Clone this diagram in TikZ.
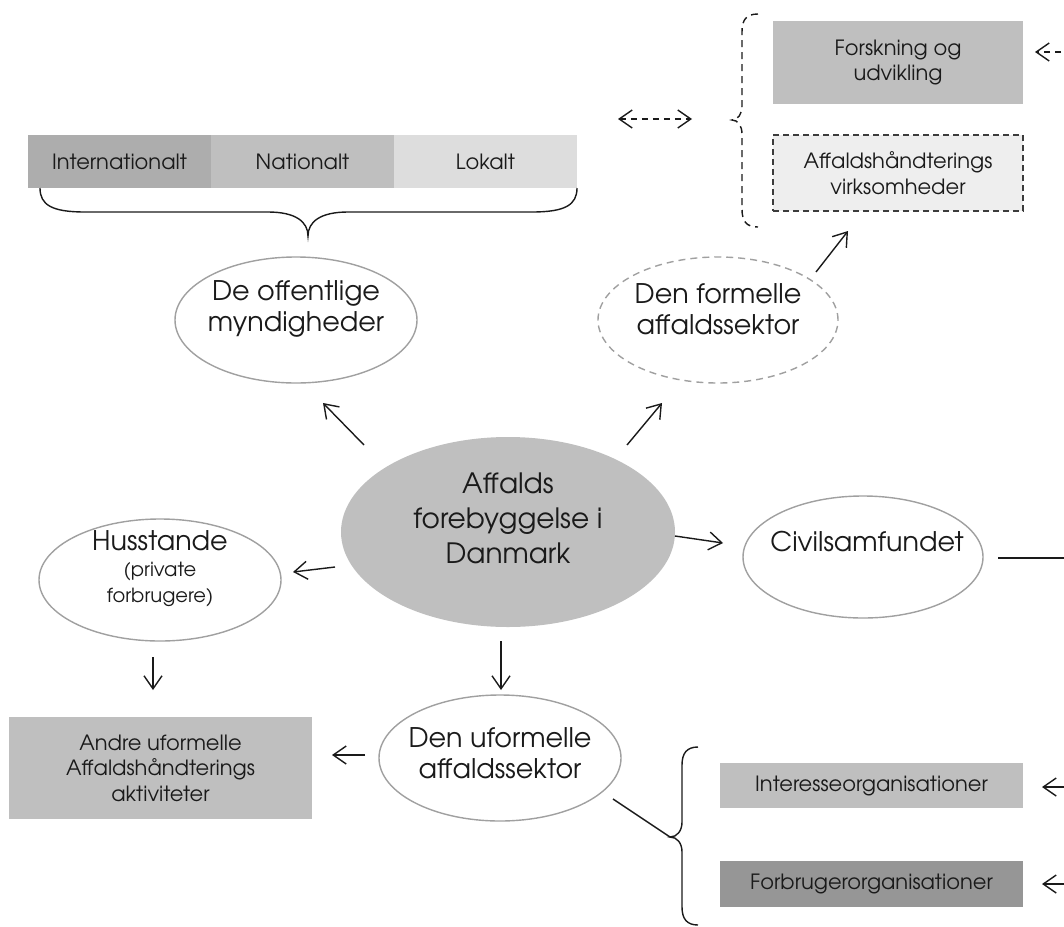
\documentclass[tikz,border=0pt]{standalone}
\usepackage{fontspec}
\setmainfont{TeX Gyre Adventor}
\usetikzlibrary{shapes.geometric,arrows.meta}
\definecolor{mid}{HTML}{BFBFBF}
\definecolor{dark}{HTML}{ADADAD}
\definecolor{light}{HTML}{DDDDDD}
\definecolor{pale}{HTML}{EEEEEE}
\definecolor{deep}{HTML}{969696}
\definecolor{rim}{HTML}{A0A0A0}
\definecolor{ink}{HTML}{1A1A1A}
\begin{document}
\begin{tikzpicture}[x=1pt,y=-1pt,
  ell/.style={ellipse,draw=rim,line width=1.4pt,fill=white,inner sep=0pt},
  box/.style={rectangle,inner sep=0pt,align=center,text=ink,font=\fontsize{21}{25.5}\selectfont},
  big/.style={align=center,text=ink,inner sep=0pt,font=\fontsize{27}{31}\selectfont},
  arr/.style={draw=ink,line width=1.4pt,-{Straight Barb[length=13pt,width=18pt,line width=1.4pt]}},
  ln/.style={draw=ink,line width=1.4pt}]
\useasboundingbox (0,0) rectangle (1064,926);
\clip (0,0) rectangle (1064,926);

% top bar
\node[box,fill=dark,minimum width=183pt,minimum height=53pt] (intl) at (119.5,161.5) {Internationalt};
\node[box,fill=mid,minimum width=183pt,minimum height=53pt] (natl) at (302.5,161.5) {Nationalt};
\node[box,fill=light,minimum width=183pt,minimum height=53pt] (lokal) at (485.5,161.5) {Lokalt};
\coordinate (btip) at (308,236);
\draw[ln] (40,188) .. controls (40,205) and (52,212) .. (85,212) -- (268,212)
  .. controls (296,212) and (308,222) .. (btip)
  .. controls (308,222) and (320,212) .. (348,212) -- (532,212)
  .. controls (565,212) and (577,205) .. (577,188);

% right top boxes
\node[box,fill=mid,minimum width=250pt,minimum height=83pt] (forsk) at (898,62.5) {Forskning og\\udvikling};
\node[box,fill=pale,draw=ink!85,dashed,dash pattern=on 6pt off 4pt,line width=1.4pt,minimum width=250pt,minimum height=76pt] (virk) at (898,173) {Affaldshåndterings\\virksomheder};
\coordinate (dtip) at (732,120);
\draw[ln,dash pattern=on 7pt off 5pt] (758,14) .. controls (746,14) and (742,20) .. (742,32) -- (742,106)
  .. controls (742,114) and (738,120) .. (dtip)
  .. controls (738,120) and (742,126) .. (742,134) -- (742,209)
  .. controls (742,221) and (746,227) .. (758,227);
\coordinate (dl) at (618,119);
\coordinate (dr) at (692,119);
\draw[ln,dash pattern=on 6pt off 5pt,{Straight Barb[length=13pt,width=18pt,line width=1.4pt]}-{Straight Barb[length=13pt,width=18pt,line width=1.4pt]}] (dl) -- (dr);
\coordinate (rf) at (1072,52);
\coordinate (rfh) at (1035,52);
\draw[arr,dash pattern=on 6pt off 5pt] (rf) -- (rfh);

% ellipses
\node[ell,minimum width=242pt,minimum height=126pt] (off) at (296,320) {};
\node[big] (offt) at (296,309) {De offentlige\\myndigheder};
\node[ell,draw=rim,dashed,dash pattern=on 7pt off 5pt,minimum width=240pt,minimum height=126pt] (form) at (718,320) {};
\node[big] (formt) at (718,309) {Den formelle\\affaldssektor};
\node[ellipse,fill=mid,inner sep=0pt,minimum width=334pt,minimum height=190pt] (main) at (508,532) {};
\node[align=center,text=ink,inner sep=0pt,font=\fontsize{28}{35}\selectfont] (maint) at (508,518) {Affalds\\forebyggelse i\\Danmark};
\node[ell,minimum width=240pt,minimum height=122pt] (civ) at (863,557) {};
\node[big] (civt) at (867,542) {Civilsamfundet};
\node[ell,minimum width=242pt,minimum height=122pt] (hus) at (160,580) {};
\node[big] (hust) at (160,541) {Husstande};
\node[align=center,text=ink,inner sep=0pt,font=\fontsize{19.5}{26}\selectfont] (husp) at (160,584) {(private\\forbrugere)};
\node[ell,minimum width=242pt,minimum height=126pt] (ufo) at (500,758) {};
\node[big] (ufot) at (500,753) {Den uformelle\\affaldssektor};

% lower boxes
\node[box,fill=mid,minimum width=303pt,minimum height=102pt] (andre) at (160.5,768) {Andre uformelle\\Affaldshåndterings\\aktiviteter};
\node[box,fill=mid,minimum width=303pt,minimum height=45pt] (int) at (871.5,785.5) {Interesseorganisationer};
\node[box,fill=deep,minimum width=303pt,minimum height=46pt] (forb) at (871.5,884) {Forbrugerorganisationer};

% lower right brace
\coordinate (rtip) at (670,837);
\draw[ln] (698,747) .. controls (687,747) and (682,753) .. (682,765) -- (682,822)
  .. controls (682,831) and (677,837) .. (rtip)
  .. controls (677,837) and (682,843) .. (682,852) -- (682,907)
  .. controls (682,919) and (687,925) .. (698,925);

% arrows from centre
\coordinate (a1s) at (364,445); \coordinate (a1e) at (323,403);
\coordinate (a2s) at (627,445); \coordinate (a2e) at (662,403);
\coordinate (a3s) at (816,272); \coordinate (a3e) at (848,231);
\coordinate (a4s) at (675,536); \coordinate (a4e) at (723,543);
\coordinate (a5s) at (335,567); \coordinate (a5e) at (293,572);
\coordinate (a6s) at (153,657); \coordinate (a6e) at (153,690);
\coordinate (a7s) at (501,641); \coordinate (a7e) at (501,690);
\coordinate (a8s) at (365,755); \coordinate (a8e) at (332,755);
\draw[arr] (a1s) -- (a1e);
\draw[arr] (a2s) -- (a2e);
\draw[arr] (a3s) -- (a3e);
\draw[arr] (a4s) -- (a4e);
\draw[arr] (a5s) -- (a5e);
\draw[arr] (a6s) -- (a6e);
\draw[arr] (a7s) -- (a7e);
\draw[arr] (a8s) -- (a8e);
\coordinate (us) at (613,799);
\draw[ln] (us) -- (rtip);
\coordinate (cs) at (998,558); \coordinate (ce) at (1072,558);
\draw[ln] (cs) -- (ce);
\coordinate (ri) at (1072,787); \coordinate (rih) at (1042,787);
\coordinate (rb) at (1072,884); \coordinate (rbh) at (1042,884);
\draw[arr] (ri) -- (rih);
\draw[arr] (rb) -- (rbh);
\end{tikzpicture}
\end{document}
